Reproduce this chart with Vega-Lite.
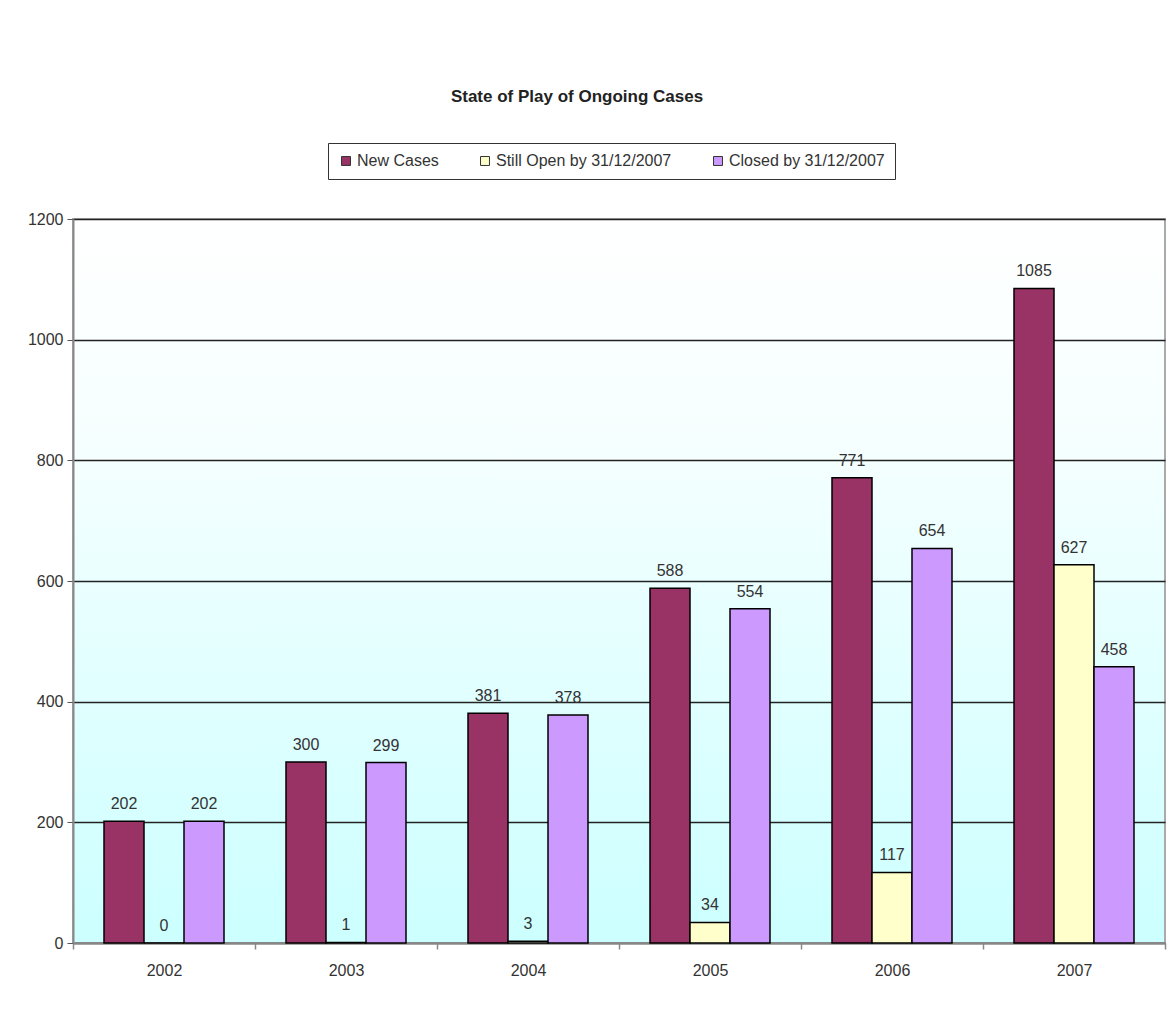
{
  "$schema": "https://vega.github.io/schema/vega-lite/v6.json",
  "width": 1092,
  "height": 724,
  "autosize": "none",
  "padding": {"left": 73, "top": 219, "right": 7, "bottom": 73},
  "background": "white",
  "title": {
    "text": "State of Play of Ongoing Cases",
    "font": "Liberation Sans, Arial, sans-serif",
    "fontSize": 17,
    "fontWeight": "bold",
    "color": "#222222",
    "anchor": "middle",
    "dx": -42,
    "offset": 37
  },
  "config": {
    "font": "Liberation Sans, Arial, sans-serif",
    "view": {
      "stroke": "#aaaaaa",
      "strokeWidth": 2,
      "fill": {
        "gradient": "linear",
        "x1": 0, "y1": 0, "x2": 0, "y2": 1,
        "stops": [
          {"offset": 0, "color": "#ffffff"},
          {"offset": 0.3, "color": "#f6ffff"},
          {"offset": 1, "color": "#ccffff"}
        ]
      }
    }
  },
  "data": {
    "values": [
      {"year": "2002", "series": "New Cases", "value": 202},
      {"year": "2002", "series": "Still Open by 31/12/2007", "value": 0},
      {"year": "2002", "series": "Closed by 31/12/2007", "value": 202},
      {"year": "2003", "series": "New Cases", "value": 300},
      {"year": "2003", "series": "Still Open by 31/12/2007", "value": 1},
      {"year": "2003", "series": "Closed by 31/12/2007", "value": 299},
      {"year": "2004", "series": "New Cases", "value": 381},
      {"year": "2004", "series": "Still Open by 31/12/2007", "value": 3},
      {"year": "2004", "series": "Closed by 31/12/2007", "value": 378},
      {"year": "2005", "series": "New Cases", "value": 588},
      {"year": "2005", "series": "Still Open by 31/12/2007", "value": 34},
      {"year": "2005", "series": "Closed by 31/12/2007", "value": 554},
      {"year": "2006", "series": "New Cases", "value": 771},
      {"year": "2006", "series": "Still Open by 31/12/2007", "value": 117},
      {"year": "2006", "series": "Closed by 31/12/2007", "value": 654},
      {"year": "2007", "series": "New Cases", "value": 1085},
      {"year": "2007", "series": "Still Open by 31/12/2007", "value": 627},
      {"year": "2007", "series": "Closed by 31/12/2007", "value": 458}
    ]
  },
  "encoding": {
    "x": {
      "field": "year",
      "type": "nominal",
      "scale": {"paddingInner": 0, "paddingOuter": 0},
      "axis": {
        "title": null,
        "labelAngle": 0,
        "labelFontSize": 16,
        "labelColor": "#333333",
        "labelPadding": 13,
        "domainColor": "#888888",
        "domainWidth": 2,
        "tickBand": "extent",
        "tickColor": "#888888",
        "tickSize": 6,
        "tickWidth": 1.5,
        "grid": false
      }
    },
    "xOffset": {
      "field": "series",
      "type": "nominal",
      "sort": ["New Cases", "Still Open by 31/12/2007", "Closed by 31/12/2007"],
      "scale": {"paddingInner": 0, "paddingOuter": 0.775}
    },
    "y": {
      "field": "value",
      "type": "quantitative",
      "scale": {"domain": [0, 1200], "nice": false},
      "axis": {
        "title": null,
        "values": [0, 200, 400, 600, 800, 1000, 1200],
        "format": "d",
        "labelFontSize": 16,
        "labelColor": "#333333",
        "labelPadding": 4,
        "domainColor": "#888888",
        "domainWidth": 2,
        "tickColor": "#555555",
        "tickSize": 6,
        "grid": true,
        "gridColor": "#222222",
        "gridWidth": 1.5
      }
    }
  },
  "layer": [
    {
      "mark": {"type": "bar", "stroke": "#000000", "strokeWidth": 1.5},
      "encoding": {
        "color": {
          "field": "series",
          "type": "nominal",
          "sort": ["New Cases", "Still Open by 31/12/2007", "Closed by 31/12/2007"],
          "scale": {
            "domain": ["New Cases", "Still Open by 31/12/2007", "Closed by 31/12/2007"],
            "range": ["#993366", "#ffffcc", "#cc99ff"]
          },
          "legend": {
            "title": null,
            "orient": "none",
            "direction": "horizontal",
            "legendX": 255,
            "legendY": -76,
            "strokeColor": "#333333",
            "fillColor": "#ffffff",
            "padding": 10,
            "symbolType": "square",
            "symbolSize": 80,
            "symbolStrokeColor": "#333333",
            "symbolStrokeWidth": 1,
            "symbolOpacity": 1,
            "labelFontSize": 16,
            "labelLimit": 0,
            "labelColor": "#333333",
            "labelOffset": 3,
            "columnPadding": 38
          }
        }
      }
    },
    {
      "mark": {"type": "text", "baseline": "bottom", "dy": -9, "fontSize": 16, "color": "#333333"},
      "encoding": {
        "text": {"field": "value", "type": "quantitative"}
      }
    }
  ]
}
